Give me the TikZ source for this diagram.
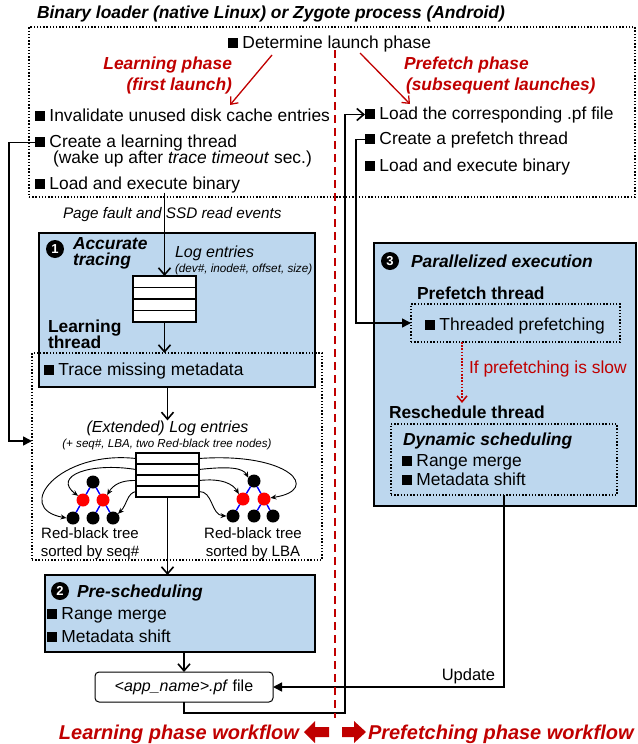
\documentclass[tikz,border=0pt]{standalone}
\usepackage{fontspec}
\setmainfont{Liberation Sans}
\usetikzlibrary{arrows.meta}
\definecolor{dred}{RGB}{192,0,0}
\definecolor{lblue}{RGB}{189,215,238}
\newcommand\sq{\rule{0.58em}{0.58em}\hspace{0.25em}}
\newcommand\fs[1]{\fontsize{#1}{#1}\selectfont}
\begin{document}
\begin{tikzpicture}[x=1pt,y=-1pt,
  every node/.style={inner sep=0pt,outer sep=0pt},
  tx/.style={anchor=base west,font=\fs{17.4}},
  bi/.style={font=\fs{17.4}\bfseries\itshape},
  bo/.style={font=\fs{17.4}\bfseries},
  redbi/.style={font=\fs{17.4}\bfseries\itshape,text=dred},
  bbox/.style={draw,line width=2.5pt,fill=lblue,rectangle,anchor=north west},
  dotbox/.style={draw,line width=1.4pt,dash pattern=on 1.4pt off 1.8pt,rectangle,anchor=north west},
  tbl/.style={draw,line width=1.2pt,fill=white,rectangle,anchor=north west},
  num/.style={circle,fill=black,text=white,minimum size=18pt,font=\fs{13}\bfseries},
  conn/.style={line width=1.5pt},
  oarr/.style={conn,-{Straight Barb[length=7pt,width=12pt,line width=1.6pt]}},
  farr/.style={conn,-{Triangle[length=9pt,width=9pt]}},
  sarr/.style={line width=0.9pt,-{Stealth[length=6pt,width=5pt]}},
  rarr/.style={draw=dred,line width=1.3pt,-{Straight Barb[length=6pt,width=10pt,line width=1.3pt]}},
  rdarr/.style={draw=dred,line width=1.6pt,dash pattern=on 1.6pt off 1.6pt,-{Straight Barb[length=6pt,width=10pt,line width=1.5pt]}},
  rbn/.style={circle,minimum size=13pt,fill=black},
  rbr/.style={circle,minimum size=13pt,fill=red},
  bedge/.style={draw=blue,line width=1.4pt}
]
\useasboundingbox (0,0) rectangle (637,744);

% ---------- top region ----------
\node[dotbox,minimum width=606pt,minimum height=170pt] (outer) at (29,27) {};
\node[tx,bi] (title) at (37,18) {Binary loader (native Linux) or Zygote process (Android)};
\node[tx] (det) at (228,48) {\sq Determine launch phase};
\node[anchor=base east,redbi] (lp1) at (232,69) {Learning phase};
\node[anchor=base east,redbi] (lp2) at (232,90) {(first launch)};
\node[anchor=base west,redbi] (pp1) at (404,69) {Prefetch phase};
\node[anchor=base west,redbi] (pp2) at (406,90) {(subsequent launches)};
\coordinate (ra1s) at (272,55);
\coordinate (ra1e) at (230,105);
\coordinate (ra2s) at (360,53);
\coordinate (ra2e) at (410,104);
\draw[rarr] (ra1s) -- (ra1e);
\draw[rarr] (ra2s) -- (ra2e);

\node[tx] (inv) at (35,121) {\sq Invalidate unused disk cache entries};
\node[tx] (clt) at (35,147) {\sq Create a learning thread};
\node[tx] (wake) at (53,163) {(wake up after \textit{trace timeout} sec.)};
\node[tx] (lexec) at (35,189) {\sq Load and execute binary};

\node[tx] (lpf) at (365,119) {\sq Load the corresponding .pf file};
\node[tx] (cpt) at (365,144) {\sq Create a prefetch thread};
\node[tx] (lexec2) at (365,171) {\sq Load and execute binary};

\node[tx,font=\fs{15.3}\itshape] (pfe) at (63,218) {Page fault and SSD read events};

% ---------- box 1 ----------
\node[bbox,minimum width=276pt,minimum height=154pt] (box1) at (39,233) {};
\node[num] (n1) at (55,249) {1};
\node[tx,bi] (acc1) at (73,249) {Accurate};
\node[tx,bi] (acc2) at (73,265) {tracing};
\node[tx,font=\fs{16}\itshape] (le1) at (175,257) {Log entries};
\node[tx,font=\fs{11.7}\itshape] (le2) at (175,272) {(dev\#, inode\#, offset, size)};
\node[tbl,minimum width=63pt,minimum height=46pt] (t1) at (133,276) {};
\foreach \yy in {287.5,299,310.5} \draw[line width=1.2pt] (133,\yy) -- (196,\yy);
\node[tx,bo] (lt1) at (48,332) {Learning};
\node[tx,bo] (lt2) at (48,348.5) {thread};

% ---------- dotted box 2 ----------
\node[dotbox,minimum width=290pt,minimum height=207pt] (dbox) at (32,353) {};
\node[tx] (tmm) at (44,375) {\sq Trace missing metadata};
\coordinate (dbin) at (32,441);

\node[anchor=base,font=\fs{16}\itshape] (ext) at (167.5,432) {(Extended) Log entries};
\node[anchor=base,font=\fs{11.6}\itshape] (ext2) at (167,447) {(+ seq\#, LBA, two Red-black tree nodes)};
\node[tbl,minimum width=63pt,minimum height=44pt] (t2) at (136,453) {};
\foreach \yy in {464,475,486} \draw[line width=1.2pt] (136,\yy) -- (199,\yy);
\coordinate (wA) at (136,458.5);
\coordinate (wB) at (136,469.5);
\coordinate (wC) at (136,480.5);
\coordinate (wD) at (136,491.5);
\coordinate (eA) at (199,458.5);
\coordinate (eB) at (199,469.5);
\coordinate (eC) at (199,480.5);
\coordinate (eD) at (199,491.5);

% left tree
\node[rbn] (la) at (93,482) {};
\node[rbr] (lb) at (83,500) {};
\node[rbr] (lc) at (103,500) {};
\node[rbn] (ld) at (73,518) {};
\node[rbn] (le) at (93,518) {};
\node[rbn] (lf) at (113,518) {};
\draw[bedge] (la) -- (lb) (la) -- (lc) (lb) -- (ld) (lc) -- (le) (lc) -- (lf);
% right tree
\node[rbn] (ra) at (254,481) {};
\node[rbr] (rb) at (243,499) {};
\node[rbr] (rc) at (264,499) {};
\node[rbn] (rd) at (233,516) {};
\node[rbn] (re) at (254,516) {};
\node[rbn] (rf) at (273,516) {};
\draw[bedge] (ra) -- (rb) (ra) -- (rc) (rb) -- (rd) (rc) -- (re) (rc) -- (rf);

% curved arrows
\draw[sarr] (wA) .. controls (60,450) and (12,508) .. (ld.180);
\draw[sarr] (wB) .. controls (90,462) and (52,476) .. (lb.140);
\draw[sarr] (wC) .. controls (121,480) and (113,485) .. (lc.50);
\draw[sarr] (wD) .. controls (127,493) and (127,505) .. (lf.40);
\draw[sarr] (eA) .. controls (290,452) and (322,490) .. (rc.10);
\draw[sarr] (eB) .. controls (230,466) and (243,468) .. (ra.150);
\draw[sarr] (eC) .. controls (222,478) and (233,484) .. (rb.130);
\draw[sarr] (eD) .. controls (213,491) and (211,515) .. (rd.180);

\node[anchor=base,font=\fs{15}] (rbt1) at (90,538) {Red-black tree};
\node[anchor=base,font=\fs{15}] (rbt2) at (90,556) {sorted by seq\#};
\node[anchor=base,font=\fs{15}] (rbt3) at (253,538) {Red-black tree};
\node[anchor=base,font=\fs{15}] (rbt4) at (253,556) {sorted by LBA};

% ---------- box 2 ----------
\node[bbox,minimum width=270pt,minimum height=77pt] (box2) at (45,575) {};
\node[num] (n2) at (60,591) {2};
\node[tx,bi] (psch) at (77,597) {Pre-scheduling};
\node[tx] (rm1) at (47,619) {\sq Range merge};
\node[tx] (ms1) at (47,642) {\sq Metadata shift};

\node[draw,line width=1pt,rounded corners=4pt,fill=white,minimum width=178pt,minimum height=30pt,anchor=north west,font=\fs{16}] (pf) at (95,672) {<\textit{app\_name>.pf} file};

% ---------- box 3 ----------
\node[bbox,minimum width=262pt,minimum height=263pt] (box3) at (374,243) {};
\node[num] (n3) at (390,261) {3};
\node[tx,bi] (par) at (411,267) {Parallelized execution};
\node[tx,bo] (pth) at (417,299) {Prefetch thread};
\node[dotbox,minimum width=209pt,minimum height=38pt] (tp) at (411,304) {};
\node[tx] (tpt) at (425,330) {\sq Threaded prefetching};
\coordinate (sl1) at (462,342);
\coordinate (sl2) at (462,403);
\draw[rdarr] (sl1) -- (sl2);
\node[tx,text=dred] (slow) at (469,373) {If prefetching is slow};
\node[tx,bo] (rth) at (389,418) {Reschedule thread};
\node[dotbox,minimum width=226pt,minimum height=71pt] (dyn) at (391,424) {};
\node[tx,bi] (dsch) at (403,445) {Dynamic scheduling};
\node[tx] (rm2) at (402,466) {\sq Range merge};
\node[tx] (ms2) at (402,485) {\sq Metadata shift};

% ---------- connectors ----------
\draw[oarr] (t1.north |- lexec.south) -- (t1.north);
\draw[oarr] (t1.south) -- (t1.south |- dbox.north);
\draw[oarr] (ext.north |- box1.south) -- (ext.north);
\draw[oarr] (t2.south) -- (t2.south |- box2.north);
\draw[oarr] (pf.north |- box2.south) -- (pf.north);
\draw[oarr] (pf.south) |- (345,713) |- (lpf.west);
\draw[farr] (cpt.west) -- ++(-9,0) |- (tp.west);
\draw[farr] (clt.west) -- ++(-26,0) |- (dbin);
\draw[farr] (dyn.south) |- (pf.east);
\node[anchor=base east,font=\fs{16.5}] (upd) at (495,680) {Update};

% ---------- bottom ----------
\node[anchor=base east,font=\fs{20}\bfseries\itshape,text=dred] (lpw) at (299,739) {Learning phase workflow};
\node[anchor=base west,font=\fs{20}\bfseries\itshape,text=dred] (ppw) at (368,739) {Prefetching phase workflow};
\fill[dred] (304,732) -- (315,721) -- (315,727) -- (329,727) -- (329,737) -- (315,737) -- (315,743) -- cycle;
\fill[dred] (366,732) -- (354,721) -- (354,727) -- (342,727) -- (342,737) -- (354,737) -- (354,743) -- cycle;

% red dashed divider
\draw[dred,line width=2pt,dash pattern=on 8pt off 5pt] (335,50) -- (335,718);
\end{tikzpicture}
\end{document}
